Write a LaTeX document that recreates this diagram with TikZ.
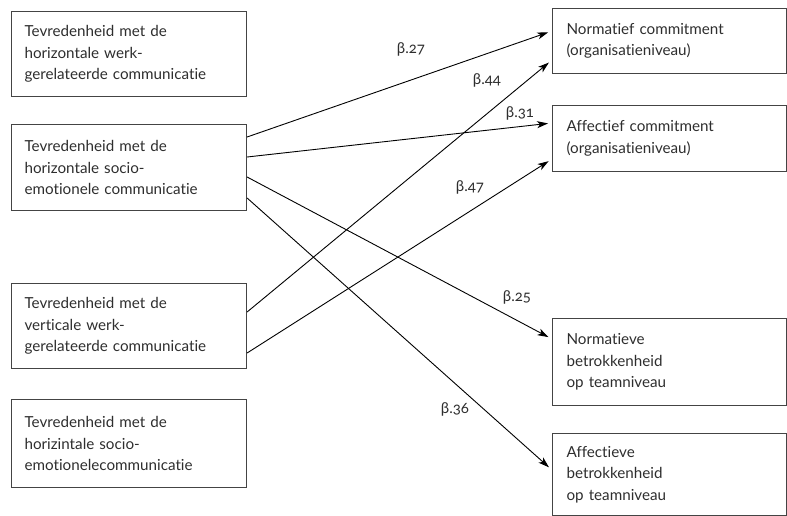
\documentclass[tikz,border=0pt]{standalone}
\usepackage{fontspec}
\setmainfont{Lato}[Numbers=OldStyle, Ligatures=NoCommon]
\usetikzlibrary{arrows.meta,calc}
\definecolor{ink}{HTML}{2E2E2E}
\definecolor{frame}{HTML}{444444}
\tikzset{
  box/.style={draw=frame, line width=1.1pt, rectangle, anchor=north west, inner sep=0pt,
    text=ink, align=left, font=\fontsize{15.2}{21.5}\selectfont},
  arr/.style={draw=black, line width=0.9pt, -{Stealth[length=11pt,width=7pt,inset=3pt]}, shorten >=4pt},
  lab/.style={text=ink, font=\fontsize{15}{16}\selectfont, inner sep=0pt}
}
\begin{document}
\begin{tikzpicture}[x=1pt,y=-1pt]
\useasboundingbox (0,0) rectangle (787,516);
\node[box, minimum width=235pt, minimum height=85pt, text width=209pt] (b1) at (11,11)
  {Tevredenheid met de\\horizontale werk-\\gerelateerde communicatie};
\node[box, minimum width=235pt, minimum height=86pt, text width=209pt] (b2) at (11,124)
  {Tevredenheid met de\\horizontale socio-\\emotionele communicatie};
\node[box, minimum width=235pt, minimum height=85pt, text width=209pt] (b3) at (11,283)
  {Tevredenheid met de\\verticale werk-\\gerelateerde communicatie};
\node[box, minimum width=235pt, minimum height=88pt, text width=209pt] (b4) at (11,399)
  {Tevredenheid met de\\horizintale socio-\\emotionelecommunicatie};
\node[box, minimum width=234pt, minimum height=65pt, text width=206pt] (r1) at (552,8)
  {Normatief commitment\\(organisatieniveau)};
\node[box, minimum width=234pt, minimum height=66pt, text width=206pt] (r2) at (552,105)
  {Affectief commitment\\(organisatieniveau)};
\node[box, minimum width=234pt, minimum height=87pt, text width=206pt] (r3) at (552,318)
  {Normatieve\\betrokkenheid\\op teamniveau};
\node[box, minimum width=234pt, minimum height=82pt, text width=206pt] (r4) at (552,433)
  {Affectieve\\betrokkenheid\\op teamniveau};
\draw[arr] ([yshift=-13pt]b2.north east) -- ([yshift=-23pt]r1.north west);
\draw[arr] ([yshift=-33pt]b2.north east) -- ([yshift=-18pt]r2.north west);
\draw[arr] ([yshift=-53pt]b2.north east) -- ([yshift=-21pt]r3.north west);
\draw[arr] ([yshift=-74pt]b2.north east) -- ([yshift=-37pt]r4.north west);
\draw[arr] ([yshift=-29pt]b3.north east) -- ([yshift=-52pt]r1.north west);
\draw[arr] ([yshift=-70pt]b3.north east) -- ([yshift=-54pt]r2.north west);
\node[lab] (l27) at (411,49) {β.27};
\node[lab] (l44) at (487,80) {β.44};
\node[lab] (l31) at (520,113) {β.31};
\node[lab] (l47) at (470,187) {β.47};
\node[lab] (l25) at (517,297) {β.25};
\node[lab] (l36) at (455,409) {β.36};
\end{tikzpicture}
\end{document}
